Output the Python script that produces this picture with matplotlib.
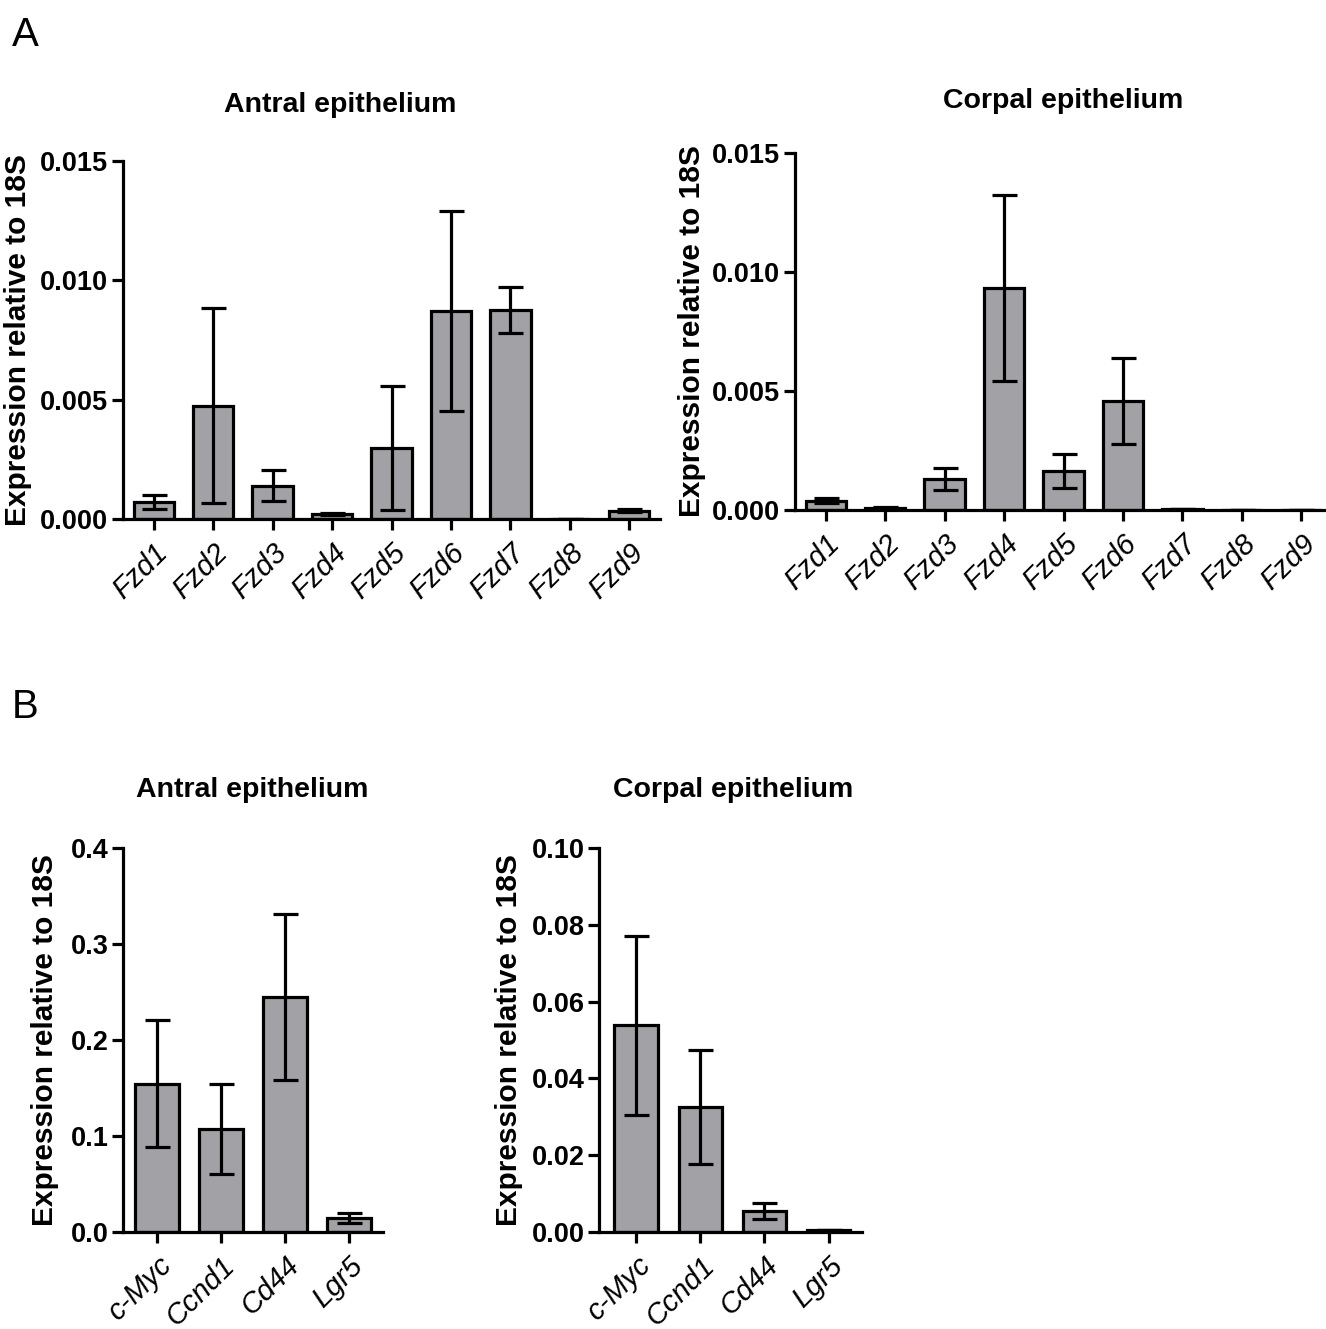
import matplotlib
matplotlib.use("Agg")
import matplotlib.pyplot as plt

plt.rcParams['font.family'] = ['Liberation Sans', 'DejaVu Sans']

fzd_genes = ["Fzd1", "Fzd2", "Fzd3", "Fzd4", "Fzd5", "Fzd6", "Fzd7", "Fzd8", "Fzd9"]
antral_fzd_mean = [0.00072, 0.00475, 0.0014, 0.0002, 0.00296, 0.00872, 0.00876, 0.00002, 0.00034]
antral_fzd_err = [0.0003, 0.0041, 0.00065, 0.00005, 0.0026, 0.0042, 0.00097, 0.0, 0.00006]
corpal_fzd_mean = [0.00039, 0.0001, 0.0013, 0.00932, 0.00165, 0.00457, 0.00003, 0.00001, 0.00001]
corpal_fzd_err = [0.0001, 0.00003, 0.00045, 0.0039, 0.00072, 0.0018, 0.0, 0.0, 0.0]

target_genes = ["c-Myc", "Ccnd1", "Cd44", "Lgr5"]
antral_tgt_mean = [0.1545, 0.1072, 0.2444, 0.0145]
antral_tgt_err = [0.066, 0.047, 0.0865, 0.005]
corpal_tgt_mean = [0.0538, 0.0326, 0.0055, 0.0005]
corpal_tgt_err = [0.0234, 0.0148, 0.0021, 0.0001]

fzd_yticks = [0.0, 0.005, 0.010, 0.015]
fzd_yticklabels = ["0.000", "0.005", "0.010", "0.015"]
antral_tgt_yticks = [0.0, 0.1, 0.2, 0.3, 0.4]
antral_tgt_yticklabels = ["0.0", "0.1", "0.2", "0.3", "0.4"]
corpal_tgt_yticks = [0.0, 0.02, 0.04, 0.06, 0.08, 0.10]
corpal_tgt_yticklabels = ["0.00", "0.02", "0.04", "0.06", "0.08", "0.10"]

W, H = 1326, 1329
fig = plt.figure(figsize=(W / 100, H / 100), dpi=100)

BAR_COLOR = "#a2a2a6"
LW = 2.3


def fx(px):
    return px / W


def fy(py):
    return 1 - py / H


def make_panel(rect, cats, mean, err, xlim, ylim, yticks, yticklabels, width, label_x):
    l, r, t, b = rect
    ax = fig.add_axes([fx(l), fy(b), fx(r) - fx(l), fy(t) - fy(b)])
    x = list(range(len(cats)))
    ax.bar(x, mean, width=width, color=BAR_COLOR, edgecolor="black", linewidth=LW, zorder=2)
    ax.errorbar(x, mean, yerr=err, fmt="none", ecolor="black", elinewidth=LW,
                capsize=9, capthick=LW, zorder=3)
    ax.set_xlim(*xlim)
    ax.set_ylim(*ylim)
    ax.set_yticks(yticks)
    ax.set_yticklabels(yticklabels, fontsize=19.5, fontweight="bold")
    ax.set_xticks(x)
    ax.set_xticklabels(cats, fontsize=21, fontstyle="italic", rotation=45,
                       ha="right", rotation_mode="anchor")
    for s in ["top", "right"]:
        ax.spines[s].set_visible(False)
    for s in ["left", "bottom"]:
        ax.spines[s].set_linewidth(LW)
    ax.tick_params(axis="both", direction="out", length=8, width=LW, pad=2.5)
    ax.tick_params(axis="x", pad=6)
    ax.set_ylabel("Expression relative to 18S", fontsize=21.5, fontweight="bold")
    ax.yaxis.set_label_coords(label_x, 0.5)
    ax.patch.set_alpha(0)
    return ax


# Panel A left
make_panel((123, 660, 161, 519), fzd_genes, antral_fzd_mean, antral_fzd_err,
           (-0.52, 8.52), (0, 0.015), fzd_yticks, fzd_yticklabels, 0.68, -0.169)
# Panel A right
make_panel((795, 1332, 153, 510), fzd_genes, corpal_fzd_mean, corpal_fzd_err,
           (-0.52, 8.52), (0, 0.015), fzd_yticks, fzd_yticklabels, 0.68, -0.166)
# Panel B left
make_panel((123, 383, 848, 1232), target_genes, antral_tgt_mean, antral_tgt_err,
           (-0.53, 3.53), (0, 0.4), antral_tgt_yticks, antral_tgt_yticklabels, 0.70, -0.247)
# Panel B right
make_panel((599, 862, 848, 1232), target_genes, corpal_tgt_mean, corpal_tgt_err,
           (-0.58, 3.52), (0, 0.10), corpal_tgt_yticks, corpal_tgt_yticklabels, 0.68, -0.288)

# Titles
fig.text(fx(340), fy(105), "Antral epithelium", ha="center", va="center", fontsize=20.5, fontweight="bold")
fig.text(fx(1063), fy(101), "Corpal epithelium", ha="center", va="center", fontsize=20.5, fontweight="bold")
fig.text(fx(252), fy(790), "Antral epithelium", ha="center", va="center", fontsize=20.5, fontweight="bold")
fig.text(fx(733), fy(790), "Corpal epithelium", ha="center", va="center", fontsize=20.5, fontweight="bold")

# Panel letters
fig.text(fx(12), fy(35), "A", ha="left", va="center", fontsize=29)
fig.text(fx(12), fy(707), "B", ha="left", va="center", fontsize=29)

fig.savefig("out.png", dpi=100)
